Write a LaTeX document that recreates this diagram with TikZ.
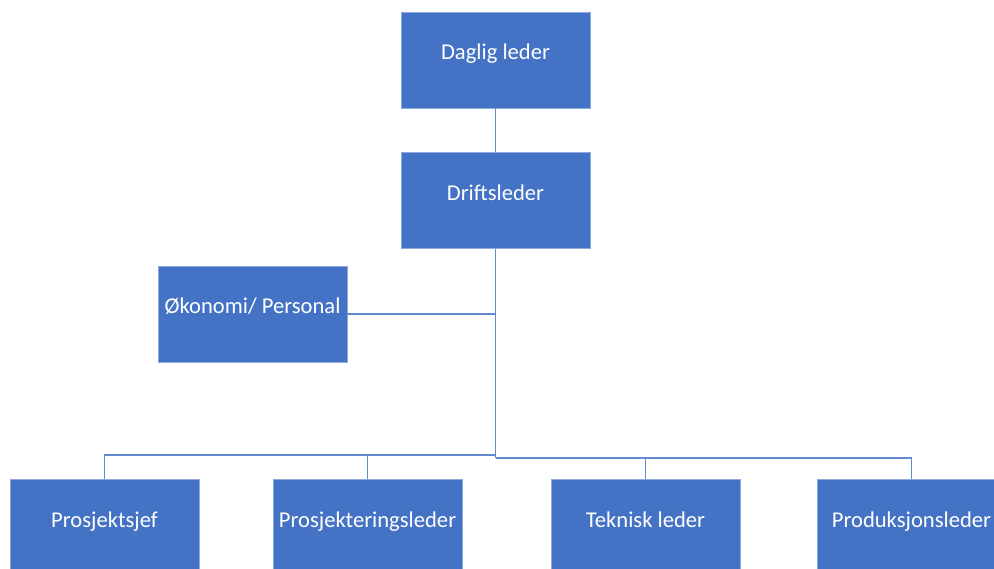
\documentclass[tikz,border=0pt]{standalone}
\usepackage{fontspec}
\setmainfont{Carlito}
\usetikzlibrary{positioning,calc}

\definecolor{enhetblaa}{HTML}{4472C4}
\definecolor{kantblaa}{HTML}{8EA9DB}
\definecolor{linjeblaa}{HTML}{6189D0}

\tikzset{
  enhet/.style={rectangle, fill=enhetblaa, draw=kantblaa, line width=0.6pt,
    minimum width=189pt, minimum height=96pt, inner sep=0pt,
    text=white, text height=8pt, text depth=8pt,
    font=\fontsize{22.6}{27}\selectfont},
  linje/.style={draw=linjeblaa, line width=1.3pt}
}

\begin{document}
\begin{tikzpicture}[x=1pt, y=-1pt]
  \useasboundingbox (0,0) rectangle (994,569);
  \clip (0,0) rectangle (994,569);

  % Nodes
  \node[enhet] (daglig) at (495.5,60) {Daglig leder};
  \node[enhet, below=44pt of daglig] (drift) {Driftsleder};
  \node[enhet] (okonomi) at (252.5,314) {Økonomi/ Personal};

  % Bottom row
  \node[enhet] (prosjektsjef) at (104.5,527) {Prosjektsjef};
  \node[enhet] (prosjektering) at (367.5,527) {Prosjekteringsleder};
  \node[enhet] (teknisk) at (645.5,527) {Teknisk leder};
  \node[enhet] (produksjon) at (911.5,527) {Produksjonsleder};

  % Junctions
  \coordinate (okpunkt) at (drift.south |- okonomi.east);
  \coordinate (venstre) at ($(drift.south)+(0,206)$);
  \coordinate (hoyre) at ($(drift.south)+(0,209)$);

  % Lines
  \draw[linje] (daglig) -- (drift);
  \draw[linje] (drift.south) -- (hoyre);
  \draw[linje] (okonomi.east) -- (okpunkt);

  \draw[linje] (venstre) -- (venstre -| prosjektsjef.north) -- (prosjektsjef.north);
  \draw[linje] (venstre -| prosjektering.north) -- (prosjektering.north);

  \draw[linje] (hoyre) -- (hoyre -| produksjon.north) -- (produksjon.north);
  \draw[linje] (hoyre -| teknisk.north) -- (teknisk.north);
\end{tikzpicture}
\end{document}
